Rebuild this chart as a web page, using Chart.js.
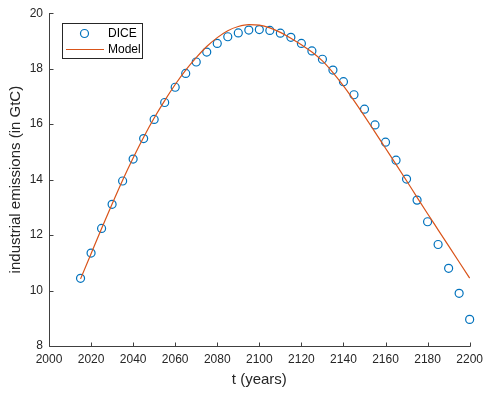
<!DOCTYPE html>
<html>
<head>
<meta charset="utf-8">
<script src="https://cdn.jsdelivr.net/npm/chart.js@4.4.1/dist/chart.umd.min.js"></script>
<style>
  html, body { margin: 0; padding: 0; background: #fff; }
  #wrap { width: 489px; height: 397px; position: relative; }
</style>
</head>
<body>
<div id="wrap"><canvas id="c" width="489" height="397"></canvas></div>
<script>
const years = [2015,2020,2025,2030,2035,2040,2045,2050,2055,2060,2065,2070,2075,2080,2085,2090,2095,2100,2105,2110,2115,2120,2125,2130,2135,2140,2145,2150,2155,2160,2165,2170,2175,2180,2185,2190,2195,2200];
const diceValues = [10.44,11.35,12.24,13.11,13.95,14.74,15.48,16.17,16.78,17.33,17.83,18.24,18.60,18.91,19.15,19.29,19.39,19.41,19.38,19.28,19.13,18.91,18.64,18.34,17.95,17.53,17.06,16.54,15.97,15.35,14.70,14.02,13.26,12.48,11.66,10.80,9.90,8.96];
const modelValues = [10.42,11.33,12.24,13.12,13.98,14.78,15.53,16.22,16.85,17.43,17.95,18.40,18.80,19.12,19.37,19.52,19.59,19.57,19.47,19.31,19.10,18.86,18.60,18.28,17.86,17.38,16.85,16.29,15.71,15.13,14.55,13.96,13.36,12.77,12.19,11.61,11.03,10.45];
const xTicks = [2000,2020,2040,2060,2080,2100,2120,2140,2160,2180,2200];
const yTicks = [8,10,12,14,16,18,20];
const seriesNames = ['DICE','Model'];
const xTitle = 't (years)';
const yTitle = 'industrial emissions (in GtC)';

const BLUE = '#0072BD';
const ORANGE = '#D95319';
const AXIS = '#404040';
const FONT = '"Liberation Sans", Arial, Helvetica, sans-serif';

const axesPlugin = {
  id: 'matlabAxes',
  afterDatasetsDraw(chart) {
    const ctx = chart.ctx;
    const a = chart.chartArea;
    const xs = chart.scales.x, ys = chart.scales.y;
    ctx.save();
    ctx.strokeStyle = AXIS;
    ctx.lineWidth = 1;
    ctx.beginPath();
    const L = Math.round(a.left) + 0.5, B = Math.round(a.bottom) + 0.5;
    ctx.moveTo(L, Math.round(a.top));
    ctx.lineTo(L, B);
    ctx.lineTo(Math.round(a.right) + 0.5, B);
    xTicks.forEach(v => {
      const px = Math.round(xs.getPixelForValue(v)) + 0.5;
      ctx.moveTo(px, B); ctx.lineTo(px, B - 4);
    });
    yTicks.forEach(v => {
      const py = Math.round(ys.getPixelForValue(v)) + 0.5;
      ctx.moveTo(L, py); ctx.lineTo(L + 4, py);
    });
    ctx.stroke();
    ctx.restore();
  },
  afterDraw(chart) {
    const ctx = chart.ctx;
    const bx = 62.5, by = 23.5, bw = 80, bh = 35;
    ctx.save();
    ctx.fillStyle = '#fff';
    ctx.fillRect(bx, by, bw, bh);
    ctx.strokeStyle = '#262626';
    ctx.lineWidth = 1;
    ctx.strokeRect(bx, by, bw, bh);
    const ds = chart.data.datasets;
    ctx.strokeStyle = ds[0].borderColor;
    ctx.lineWidth = 1.2;
    ctx.beginPath();
    ctx.arc(84.5, 33.5, 4, 0, Math.PI * 2);
    ctx.stroke();
    ctx.strokeStyle = ds[1].borderColor;
    ctx.lineWidth = 1;
    ctx.beginPath();
    ctx.moveTo(66, 49.5); ctx.lineTo(104, 49.5);
    ctx.stroke();
    ctx.fillStyle = '#000';
    ctx.font = '12px ' + FONT;
    ctx.textBaseline = 'middle';
    ctx.textAlign = 'left';
    ctx.fillText(ds[0].label, 108, 33.5);
    ctx.fillText(ds[1].label, 108, 50);
    ctx.restore();
  }
};

new Chart(document.getElementById('c'), {
  type: 'scatter',
  data: {
    datasets: [
      {
        label: seriesNames[0],
        data: years.map((y, i) => ({ x: y, y: diceValues[i] })),
        showLine: false,
        pointStyle: 'circle',
        pointRadius: 4,
        pointBorderWidth: 1.2,
        borderColor: BLUE,
        backgroundColor: 'rgba(0,0,0,0)',
        pointBackgroundColor: 'rgba(0,0,0,0)',
        clip: false,
        order: 1
      },
      {
        label: seriesNames[1],
        data: years.map((y, i) => ({ x: y, y: modelValues[i] })),
        showLine: true,
        pointRadius: 0,
        borderColor: ORANGE,
        borderWidth: 1.2,
        tension: 0.4,
        cubicInterpolationMode: 'monotone',
        fill: false,
        clip: false,
        order: 0
      }
    ]
  },
  options: {
    responsive: false,
    animation: false,
    devicePixelRatio: 1,
    layout: { padding: { left: 0, right: 16, top: 11, bottom: 0 } },
    plugins: { legend: { display: false }, tooltip: { enabled: false } },
    scales: {
      x: {
        type: 'linear',
        min: 2000, max: 2200,
        afterBuildTicks(scale) { scale.ticks = xTicks.map(v => ({ value: v })); },
        afterFit(scale) { scale.height = 51; },
        grid: { display: false, drawTicks: false },
        border: { display: false },
        ticks: { color: '#262626', font: { family: FONT, size: 12 }, padding: 6, maxRotation: 0, autoSkip: false,
                 callback: v => String(v) },
        title: { display: true, text: xTitle, color: '#262626', font: { family: FONT, size: 15 }, padding: { top: 3, bottom: 8 } }
      },
      y: {
        type: 'linear',
        min: 8, max: 20,
        afterBuildTicks(scale) { scale.ticks = yTicks.map(v => ({ value: v })); },
        afterFit(scale) { scale.width = 49; },
        grid: { display: false, drawTicks: false },
        border: { display: false },
        ticks: { color: '#262626', font: { family: FONT, size: 12 }, padding: 6, autoSkip: false,
                 callback: v => String(v) },
        title: { display: true, text: yTitle, color: '#262626', font: { family: FONT, size: 15 }, padding: { top: 7, bottom: 0 } }
      }
    }
  },
  plugins: [axesPlugin]
});
</script>
</body>
</html>
